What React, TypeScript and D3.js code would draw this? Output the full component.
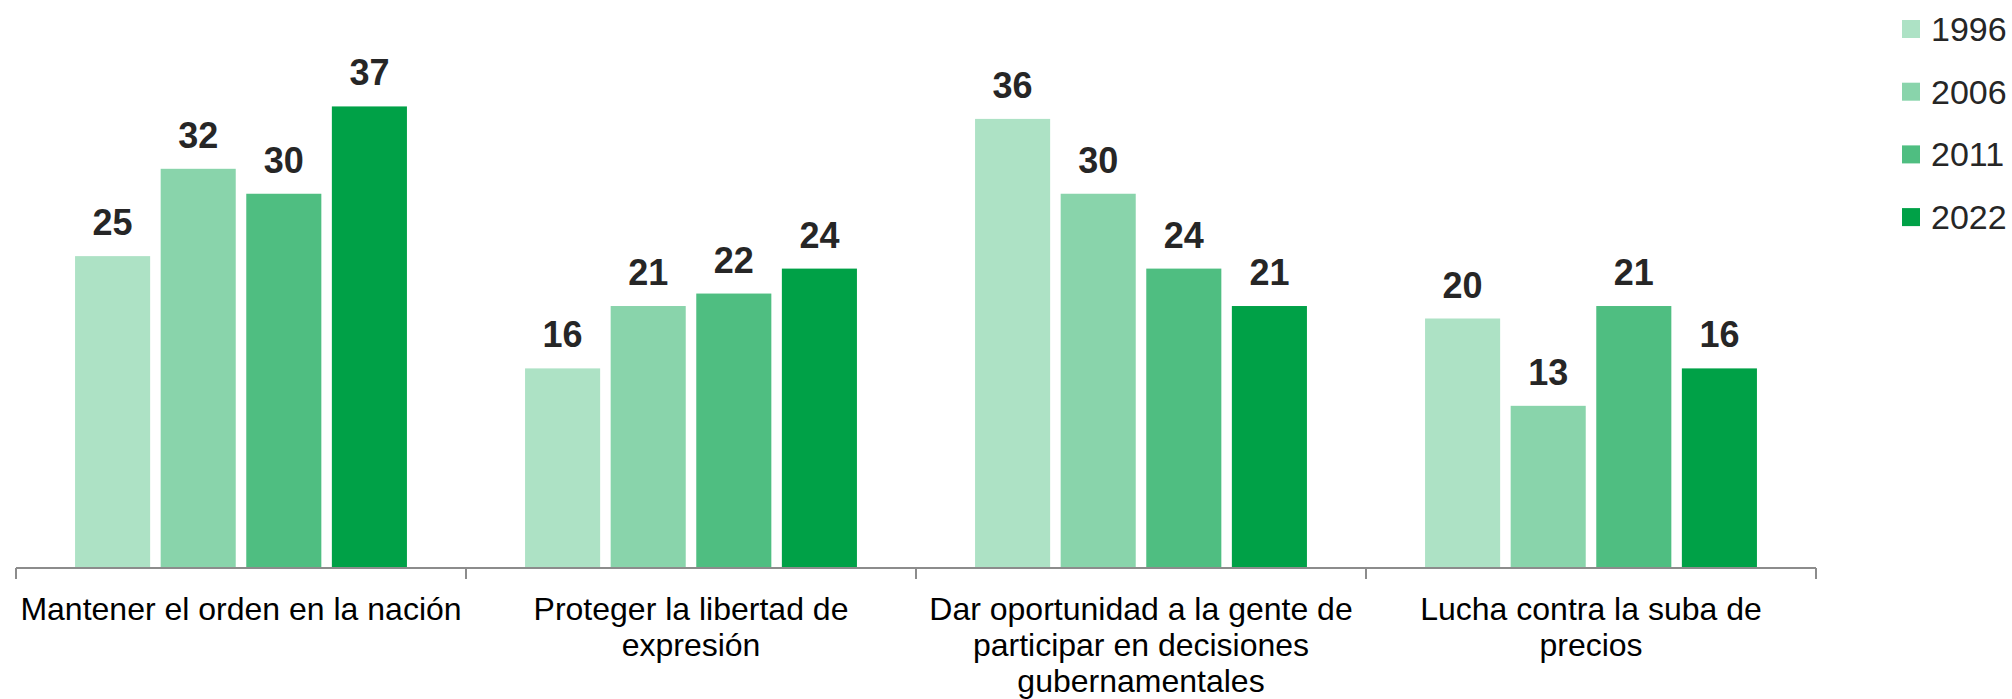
import React from "react";
import * as d3 from "d3";

const categories = [
  ["Mantener el orden en la nación"],
  ["Proteger la libertad de", "expresión"],
  ["Dar oportunidad a la gente de", "participar en decisiones", "gubernamentales"],
  ["Lucha contra la suba de", "precios"],
];
const categoryKeys = ["orden", "libertad", "participar", "precios"];
const years = ["1996", "2006", "2011", "2022"];
const values1996 = [25, 16, 36, 20];
const values2006 = [32, 21, 30, 13];
const values2011 = [30, 22, 24, 21];
const values2022 = [37, 24, 21, 16];
const seriesValues = [values1996, values2006, values2011, values2022];
const colors = ["#ADE2C5", "#89D4AB", "#4FBE81", "#00A147"];

const W = 2012;
const H = 699;

export default function App() {
  const x0 = d3.scaleBand<string>().domain(categoryKeys).range([16, 1816]).padding(0);
  const x1 = d3
    .scaleBand<string>()
    .domain(years)
    .range([0, x0.bandwidth()])
    .paddingInner(0.123)
    .paddingOuter(0.69);
  const y = d3.scaleLinear().domain([0, 40]).range([568, 69]);
  const baseY = y(0);
  const tickXs = [...categoryKeys.map((k) => x0(k) as number), 1816];

  return (
    <svg
      width={W}
      height={H}
      style={{ position: "absolute", left: 0, top: 0, background: "#fff" }}
    >
      {categoryKeys.map((k, ci) => (
        <g key={k} transform={`translate(${x0(k)},0)`}>
          {years.map((yr, si) => {
            const v = seriesValues[si][ci];
            const bx = x1(yr) as number;
            return (
              <g key={yr}>
                <rect
                  x={bx}
                  y={y(v)}
                  width={x1.bandwidth()}
                  height={baseY - y(v)}
                  fill={colors[si]}
                />
                <text
                  x={bx + x1.bandwidth() / 2}
                  y={y(v) - 21}
                  textAnchor="middle"
                  fontFamily="'Liberation Sans', Arial, sans-serif"
                  fontWeight="bold"
                  fontSize={36}
                  fill="#262626"
                >
                  {v}
                </text>
              </g>
            );
          })}
          {categories[ci].map((line, li) => (
            <text
              key={li}
              x={x0.bandwidth() / 2}
              y={620 + li * 36}
              textAnchor="middle"
              fontFamily="'Liberation Sans', Arial, sans-serif"
              fontSize={32}
              fill="#000"
            >
              {line}
            </text>
          ))}
        </g>
      ))}
      <line x1={16} x2={1816} y1={baseY} y2={baseY} stroke="#8C8C8C" strokeWidth={2} />
      {tickXs.map((tx, i) => (
        <line key={i} x1={tx} x2={tx} y1={baseY} y2={baseY + 11} stroke="#8C8C8C" strokeWidth={2} />
      ))}
      {years.map((yr, si) => {
        const cy = 29 + si * 62.7;
        return (
          <g key={yr}>
            <rect x={1902} y={cy - 9} width={18} height={18} fill={colors[si]} />
            <text
              x={1931}
              y={cy + 12}
              fontFamily="'Liberation Sans', Arial, sans-serif"
              fontSize={34}
              fill="#262626"
            >
              {yr}
            </text>
          </g>
        );
      })}
    </svg>
  );
}
